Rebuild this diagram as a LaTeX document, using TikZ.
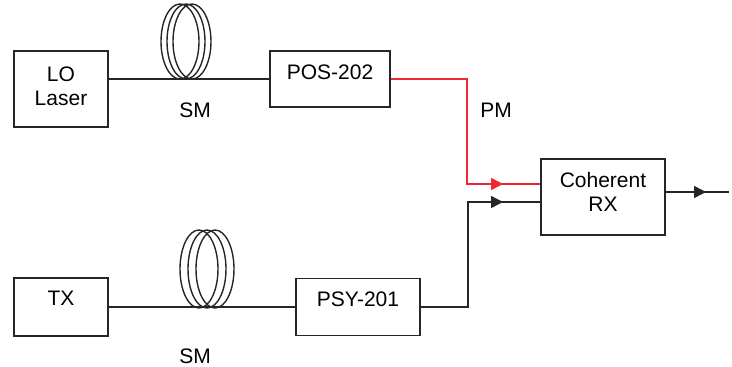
\documentclass[tikz,border=0pt]{standalone}
\usepackage{fontspec}
\setmainfont{Liberation Sans}
\usetikzlibrary{arrows.meta,shapes.geometric}
\definecolor{linegray}{RGB}{38,38,38}
\definecolor{pmred}{RGB}{237,40,50}
\tikzset{
  box/.style={draw=linegray,line width=1.5pt,align=center,inner sep=0pt,font=\fontsize{21}{24}\selectfont},
  lbl/.style={inner sep=0pt,font=\fontsize{21}{24}\selectfont},
  coil/.style={draw=linegray,ellipse,line width=1.4pt,inner sep=0pt,minimum width=38pt},
  fiber/.style={draw=linegray,line width=1.6pt},
  tip/.style={-{Triangle[length=12pt,width=12pt]},shorten >=0pt}
}
\begin{document}
\begin{tikzpicture}[x=1pt,y=-1pt]
\useasboundingbox (0,0) rectangle (732,367);
% boxes
\node[box,minimum width=94pt,minimum height=76pt,text depth=5pt] (lo) at (61,89) {LO\\Laser};
\node[box,minimum width=120pt,minimum height=56pt,text depth=14pt] (pos) at (330,79) {POS-202};
\node[box,minimum width=94pt,minimum height=58pt,text depth=18pt] (tx) at (61,307) {TX};
\node[box,minimum width=124pt,minimum height=57pt,text depth=16pt] (psy) at (358,307) {PSY-201};
\node[box,minimum width=124pt,minimum height=76pt,text depth=11pt] (rx) at (603,197) {Coherent\\RX};
% fibre coils
\node[coil,minimum height=75pt] (coilA) at (180,41.5) {};
\node[coil,minimum height=75pt] (coilB) at (186,41.5) {};
\node[coil,minimum height=75pt] (coilC) at (192,41.5) {};
\node[coil,minimum height=78pt] (coilD) at (199,269) {};
\node[coil,minimum height=78pt] (coilE) at (207,269) {};
\node[coil,minimum height=78pt] (coilF) at (215,269) {};
\node[lbl] (smtop) at (195,110) {SM};
\node[lbl] (smbot) at (195,356) {SM};
\node[lbl] (pm) at (496,110) {PM};
% connection points
\coordinate (rxred) at (rx.west |- 0,184);
\coordinate (rxblk) at (rx.west |- 0,202);
\coordinate (rxout) at (rx.east |- 0,192);
\coordinate (redbase) at (490,184);
\coordinate (redtip) at (503,184);
\coordinate (blkbase) at (490,202);
\coordinate (blktip) at (503,202);
\coordinate (outbase) at (693,192);
\coordinate (outtip) at (706,192);
\coordinate (outend) at (729,192);
% fibres
\draw[fiber] (pos.west -| lo.east) -- (pos.west);
\draw[fiber] (tx) -- (psy);
\draw[fiber] (psy.east) -| (468,202) -- (rxblk);
\draw[fiber,tip] (blkbase) -- (blktip);
\draw[fiber,draw=pmred] (pos.east) -| (467,184) -- (rxred);
\draw[fiber,draw=pmred,tip] (redbase) -- (redtip);
\draw[fiber] (rxout) -- (outend);
\draw[fiber,tip] (outbase) -- (outtip);
\end{tikzpicture}
\end{document}
